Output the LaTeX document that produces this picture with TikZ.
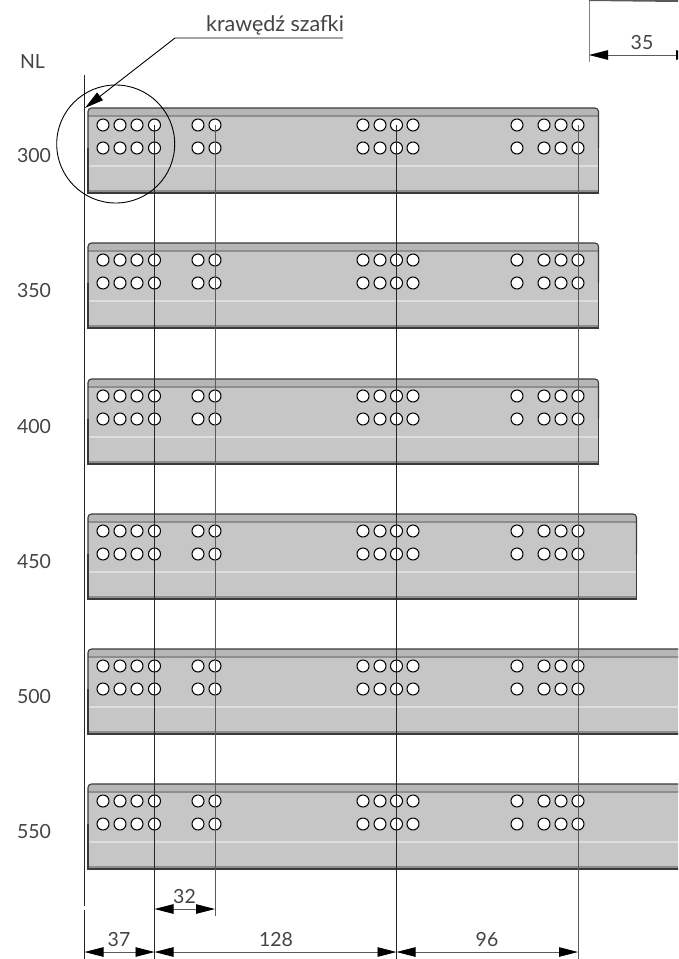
\documentclass[tikz,border=0pt]{standalone}
\usepackage{fontspec}
\setmainfont{Lato}
\usetikzlibrary{arrows.meta}
\definecolor{panelfill}{HTML}{C6C6C6}
\definecolor{paneledge}{HTML}{3A3A3A}
\definecolor{bandfill}{HTML}{8E8E8E}
\definecolor{bandlight}{HTML}{B6B6B6}
\definecolor{ridge}{HTML}{DEDEDE}
\definecolor{dimgray}{HTML}{5A5A5A}
\definecolor{labelgray}{HTML}{444444}
\tikzset{
  hole/.style={circle,draw=black,fill=white,line width=1pt,minimum size=12pt,inner sep=0pt},
  label/.style={font=\fontsize{19.5}{19.5}\selectfont,text=labelgray,inner sep=0pt},
  refline/.style={line width=0.9pt,draw=black!85},
  dim/.style={line width=0.9pt,draw=dimgray,{Triangle[length=19pt,width=9.5pt,black]}-{Triangle[length=19pt,width=9.5pt,black]}},
  leader/.style={line width=0.9pt,draw=black}
}
\begin{document}
\begin{tikzpicture}[x=1pt,y=-1pt]
\useasboundingbox (0,0) rectangle (678,959);
\clip (0,0) rectangle (678,959);
% panels: top / right
\foreach \t/\r in {108/598.5,243/598.5,379/598.5,514/636.5,649/700,784/700}{
  \fill[panelfill,rounded corners=3.5pt] (88,\t+85) [sharp corners] -- (88,\t+40) [rounded corners=3.5pt] -- (88,\t) -- (\r,\t) -- (\r,\t+40) [sharp corners] -- (\r,\t+85) -- cycle;
  \fill[bandlight,rounded corners=3pt] (88,\t+8) [sharp corners] -- (88,\t+3) [rounded corners=3pt] -- (88,\t) -- (\r,\t) [sharp corners] -- (\r,\t+8) -- cycle;
  \fill[bandfill] (88,\t+6.5) rectangle (\r,\t+8.5);
  \fill[ridge] (88,\t+57) rectangle (\r,\t+59);
  \fill[bandfill] (88,\t+81.5) rectangle (\r,\t+84);
  \draw[paneledge,line width=1.1pt,rounded corners=3.5pt] (88,\t+40) -- (88,\t) -- (\r,\t) -- (\r,\t+40);
  \draw[paneledge,line width=1.1pt] (88,\t+40) -- (88,\t+85) -- (\r,\t+85) -- (\r,\t+40);
  \foreach \y in {17,40}{
    \foreach \x in {103,120,137,154.5,198,215,363,380,396.5,413,517,544,561,578}{
      \node[hole] at (\x,\t+\y) {};
    }
  }
}
% reference points
\coordinate (nlTop) at (84.5,75);
\coordinate (nlGapA) at (84.5,906);
\coordinate (nlGapB) at (84.5,910);
\coordinate (nlEnd) at (84.5,959);
\coordinate (aTop) at (154.5,125);
\coordinate (aEnd) at (154.5,959);
\coordinate (bTop) at (215,125);
\coordinate (bEnd) at (215,916);
\coordinate (cTop) at (396.5,125);
\coordinate (cEnd) at (396.5,959);
\coordinate (dTop) at (578,125);
\coordinate (dEnd) at (578,959);
\coordinate (eTop) at (589,0);
\coordinate (eEnd) at (589,62);
\coordinate (eRight) at (678,1);
\draw[refline] (nlTop) -- (nlGapA) (nlGapB) -- (nlEnd);
\draw[refline] (aTop) -- (aEnd);
\draw[refline,draw=dimgray] (bTop) -- (bEnd);
\draw[refline] (cTop) -- (cEnd);
\draw[refline,draw=dimgray] (dTop) -- (dEnd);
\draw[refline,draw=gray] (eTop) -- (eEnd);
\draw[line width=2pt,draw=dimgray] (eTop) -- (eRight);
% detail circle and leader
\node[circle,draw=black,line width=0.9pt,minimum size=118pt,inner sep=0pt] (detail) at (115.7,144) {};
\coordinate (tipL) at (85,108);
\coordinate (kneeL) at (175,38);
\coordinate (endL) at (343,38);
\draw[leader,-{Triangle[length=19pt,width=9.5pt,black]}] (endL) -- (kneeL) -- (tipL);
\node[label,font=\fontsize{21.5}{21.5}\selectfont] (kraw) at (275,25.5) {krawędź szafki};
% side labels
\node[label] (nl) at (32.5,62) {NL};
\node[label] (n300) at (34,156) {300};
\node[label] (n350) at (34,291) {350};
\node[label] (n400) at (34,427) {400};
\node[label] (n450) at (34,562) {450};
\node[label] (n500) at (34,697) {500};
\node[label] (n550) at (34,832) {550};
% dimensions
\coordinate (d37a) at (84.5,952);
\coordinate (d37b) at (154.5,952);
\coordinate (d128b) at (396.5,952);
\coordinate (d96b) at (578,952);
\coordinate (d32a) at (154.5,909);
\coordinate (d32b) at (215,909);
\coordinate (d35a) at (589,55);
\coordinate (d35b) at (695,55);
\draw[dim] (d37a) -- (d37b);
\draw[dim] (d37b) -- (d128b);
\draw[dim] (d128b) -- (d96b);
\draw[dim] (d32a) -- (d32b);
\draw[dim] (d35a) -- (d35b);
\node[label] (t37) at (119,940) {37};
\node[label] (t128) at (276,940) {128};
\node[label] (t96) at (487,940) {96};
\node[label] (t32) at (184.5,897) {32};
\node[label] (t35) at (642,43) {35};
\end{tikzpicture}
\end{document}
